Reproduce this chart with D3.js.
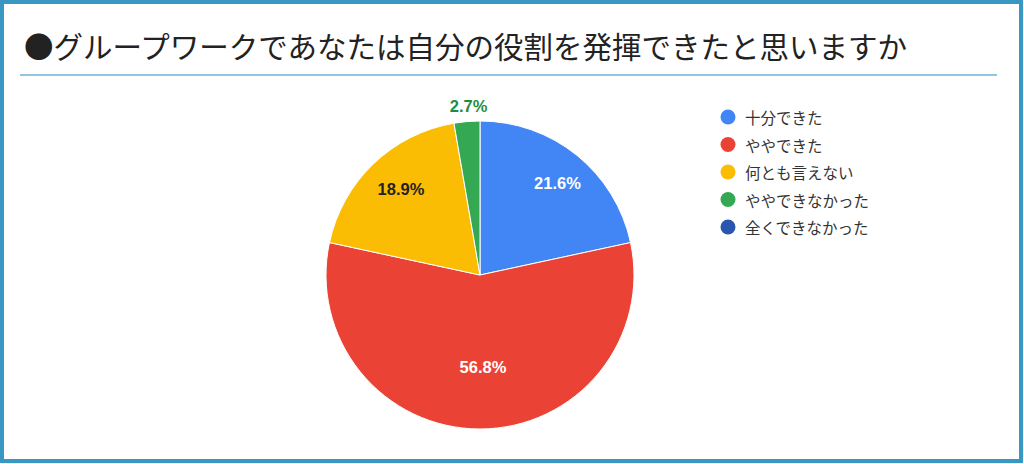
<!DOCTYPE html>
<html>
<head>
<meta charset="utf-8">
<script src="https://cdn.jsdelivr.net/npm/d3@7"></script>
<style>
  html, body { margin: 0; padding: 0; background: #fff; }
  svg { display: block; }
</style>
</head>
<body>
<div id="viz"></div>
<script>
const title = '●グループワークであなたは自分の役割を発揮できたと思いますか';
const categories = ['十分できた', 'ややできた', '何とも言えない', 'ややできなかった', '全くできなかった'];
const counts = [8, 21, 7, 1, 0]; // 37 answers
const colors = ['#4285f4', '#ea4335', '#fbbc04', '#34a853', '#2a56b0'];
const labelColors = ['#ffffff', '#ffffff', '#222222', '#1e8e3e', '#ffffff'];

const width = 1024, height = 464;
const cx = 480, cy = 275, radius = 154;

const svg = d3.select('#viz').append('svg')
  .attr('width', width)
  .attr('height', height);

// frame
svg.append('rect')
  .attr('x', 2).attr('y', 2)
  .attr('width', width - 5).attr('height', height - 5)
  .attr('fill', '#fff')
  .attr('stroke', '#3a97c4')
  .attr('stroke-width', 4);

// title + rule
svg.append('text')
  .attr('x', 24).attr('y', 58)
  .attr('font-family', '"Noto Sans CJK JP", "Noto Sans", sans-serif')
  .attr('font-size', 29.5)
  .attr('fill', '#222')
  .text(title);

svg.append('line')
  .attr('x1', 20).attr('x2', 997)
  .attr('y1', 75).attr('y2', 75)
  .attr('stroke', '#6fb3d6')
  .attr('stroke-width', 1.5);

// pie
const total = d3.sum(counts);
const pie = d3.pie().sort(null).value(d => d)(counts);
const arc = d3.arc().innerRadius(0).outerRadius(radius);

const g = svg.append('g').attr('transform', `translate(${cx},${cy})`);

g.selectAll('path')
  .data(pie.filter(d => d.value > 0))
  .enter().append('path')
    .attr('d', arc)
    .attr('fill', d => colors[d.index])
    .attr('stroke', '#fff')
    .attr('stroke-width', 1);

// labels: inside for normal slices, outside for thin ones
g.selectAll('text.lbl')
  .data(pie.filter(d => d.value > 0))
  .enter().append('text')
    .attr('class', 'lbl')
    .attr('transform', d => {
      const frac = d.value / total;
      const r = frac < 0.05 ? radius + 16 : (frac > 0.5 ? radius * 0.6 : radius * 0.77);
      const c = d3.arc().innerRadius(r).outerRadius(r).centroid(d);
      return `translate(${c[0] + 3},${c[1]})`;
    })
    .attr('text-anchor', 'middle')
    .attr('dominant-baseline', 'central')
    .attr('font-family', 'Arial, "Liberation Sans", sans-serif')
    .attr('font-weight', 'bold')
    .attr('font-size', 16.5)
    .attr('fill', d => labelColors[d.index])
    .text(d => (d.value / total * 100).toFixed(1) + '%');

// legend
const legend = svg.append('g').attr('transform', 'translate(728,117)');
const rows = legend.selectAll('g')
  .data(categories)
  .enter().append('g')
    .attr('transform', (d, i) => `translate(0,${i * 27.5})`);
rows.append('circle')
  .attr('r', 7.5)
  .attr('fill', (d, i) => colors[i]);
rows.append('text')
  .attr('x', 17)
  .attr('dominant-baseline', 'central')
  .attr('font-family', '"Noto Sans CJK JP", sans-serif')
  .attr('font-size', 15.5)
  .attr('fill', '#333')
  .text(d => d);
</script>
</body>
</html>
